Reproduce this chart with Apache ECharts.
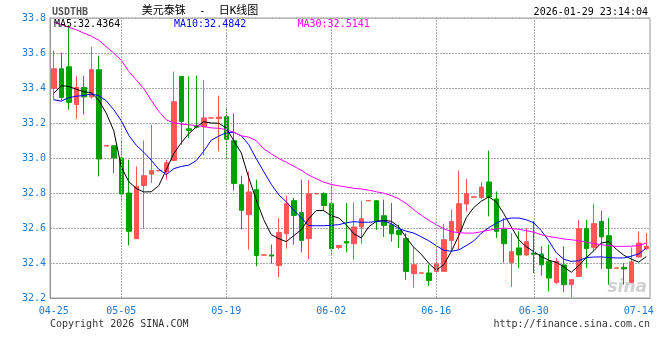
<!DOCTYPE html>
<html>
<head>
<meta charset="utf-8">
<script src="https://cdn.jsdelivr.net/npm/echarts@6/dist/echarts.min.js"></script>
<style>
html,body{margin:0;padding:0;background:#fff;}
#chart{width:660px;height:360px;}
</style>
</head>
<body>
<div id="chart"></div>
<script>
const dates = [
'04-25','04-26','04-27','04-28','04-29','04-30','05-02','05-03','05-04','05-05',
'05-06','05-07','05-08','05-09','05-10','05-11','05-12','05-13','05-14','05-15','05-16','05-17','05-18','05-19',
'05-20','05-21','05-22','05-23','05-24','05-25','05-26','05-27','05-28','05-29','05-30','05-31','06-01','06-02',
'06-03','06-04','06-05','06-06','06-07','06-08','06-09','06-10','06-11','06-12','06-13','06-14','06-15','06-16',
'06-17','06-18','06-19','06-20','06-21','06-23','06-24','06-25','06-26','06-27','06-28','06-29','06-30',
'07-01','07-02','07-03','07-04','07-05','07-06','07-07','07-08','07-09','07-10','07-11','07-12','07-13','07-14','07-15'
];
const tickLabels = ['04-25','05-05','05-19','06-02','06-16','06-30','07-14'];
const gridDates = ['05-05','05-19','06-02','06-16','06-30'];

const opens = [
33.398,33.510,33.521,33.306,33.403,33.349,33.505,33.068,33.070,33.000,
32.800,32.539,32.843,32.908,32.927,32.920,32.986,33.466,33.167,33.183,
33.178,33.228,33.225,33.236,33.099,32.847,32.676,32.819,32.445,32.446,
32.386,32.567,32.756,32.689,32.539,32.795,32.796,32.739,32.489,32.523,
32.510,32.606,32.755,32.756,32.670,32.619,32.586,32.539,32.339,32.342,
32.343,32.352,32.352,32.529,32.581,32.737,32.776,32.775,32.863,32.766,
32.594,32.403,32.486,32.446,32.457,32.451,32.409,32.289,32.389,32.276,
32.323,32.596,32.489,32.638,32.556,32.370,32.375,32.289,32.434,32.482
];
const closes = [
33.510,33.346,33.318,33.403,33.349,33.505,32.994,33.072,33.000,32.794,
32.581,32.838,32.899,32.928,32.929,32.973,33.322,33.209,33.158,33.176,
33.229,33.230,33.234,33.107,32.855,32.701,32.806,32.443,32.447,32.440,
32.575,32.739,32.672,32.529,32.796,32.797,32.729,32.482,32.500,32.514,
32.606,32.653,32.757,32.638,32.615,32.567,32.562,32.352,32.390,32.344,
32.300,32.396,32.533,32.638,32.739,32.796,32.778,32.834,32.777,32.581,
32.510,32.465,32.446,32.522,32.449,32.390,32.314,32.409,32.276,32.305,
32.596,32.482,32.625,32.549,32.369,32.372,32.366,32.407,32.514,32.495
];
const lows = [
33.330,33.330,33.276,33.224,33.249,33.340,32.895,33.066,32.914,32.752,
32.500,32.537,32.594,32.857,32.926,32.876,32.985,33.076,33.114,33.170,
33.016,33.227,33.038,32.994,32.815,32.592,32.476,32.381,32.444,32.396,
32.318,32.482,32.505,32.461,32.423,32.794,32.700,32.447,32.480,32.461,
32.419,32.510,32.754,32.590,32.549,32.523,32.486,32.305,32.260,32.340,
32.270,32.352,32.352,32.476,32.476,32.695,32.775,32.766,32.666,32.543,
32.403,32.263,32.371,32.440,32.343,32.329,32.238,32.280,32.234,32.203,
32.323,32.371,32.466,32.367,32.276,32.369,32.276,32.289,32.434,32.476
];
const highs = [
33.613,33.600,33.760,33.470,33.470,33.636,33.585,33.074,33.072,33.105,
32.990,32.952,33.100,33.190,32.930,32.990,33.494,33.468,33.466,33.471,
33.445,33.231,33.356,33.286,33.253,32.899,32.923,32.876,32.448,32.505,
32.657,32.785,32.771,32.876,32.876,32.798,32.803,32.847,32.502,32.743,
32.746,32.756,32.758,32.757,32.762,32.743,32.619,32.570,32.490,32.346,
32.390,32.495,32.625,32.705,32.929,32.880,32.779,32.861,33.042,32.809,
32.657,32.571,32.581,32.600,32.638,32.495,32.505,32.430,32.495,32.305,
32.647,32.647,32.739,32.699,32.657,32.373,32.400,32.489,32.581,32.571
];
const ma5 = [
33.370,33.413,33.409,33.393,33.379,33.373,33.330,33.256,33.156,32.950,
32.865,32.826,32.806,32.807,32.842,32.933,33.025,33.087,33.139,33.177,
33.207,33.200,33.199,33.171,33.099,33.029,32.887,32.760,32.648,32.562,
32.539,32.522,32.556,32.590,32.653,32.700,32.699,32.670,32.657,32.619,
32.567,32.543,32.607,32.638,32.643,32.639,32.607,32.545,32.490,32.450,
32.398,32.359,32.390,32.465,32.556,32.659,32.717,32.753,32.778,32.750,
32.682,32.607,32.533,32.493,32.465,32.437,32.416,32.404,32.379,32.347,
32.385,32.430,32.470,32.514,32.522,32.479,32.445,32.422,32.405,32.4364
];
const ma10 = [
33.333,33.325,33.345,33.353,33.357,33.366,33.356,33.327,33.276,33.213,
33.130,33.073,33.033,32.987,32.936,32.905,32.939,32.952,32.959,32.985,
33.039,33.102,33.125,33.145,33.147,33.127,33.076,32.996,32.922,32.850,
32.790,32.750,32.702,32.659,32.613,32.613,32.613,32.616,32.619,32.630,
32.636,32.633,32.633,32.636,32.641,32.625,32.596,32.582,32.571,32.550,
32.527,32.499,32.473,32.467,32.475,32.499,32.526,32.570,32.602,32.627,
32.649,32.657,32.657,32.647,32.630,32.585,32.527,32.459,32.422,32.409,
32.413,32.431,32.434,32.435,32.431,32.429,32.429,32.439,32.453,32.4842
];
const ma30 = [
33.776,33.762,33.747,33.733,33.714,33.696,33.673,33.636,33.599,33.559,
33.495,33.446,33.396,33.330,33.267,33.218,33.200,33.194,33.190,33.185,
33.180,33.172,33.170,33.162,33.147,33.127,33.119,33.099,33.053,33.024,
32.997,32.976,32.953,32.930,32.902,32.882,32.862,32.849,32.841,32.834,
32.827,32.823,32.816,32.807,32.799,32.785,32.767,32.739,32.705,32.673,
32.644,32.619,32.596,32.579,32.573,32.571,32.571,32.579,32.587,32.595,
32.599,32.597,32.593,32.585,32.576,32.562,32.551,32.545,32.537,32.533,
32.527,32.519,32.511,32.505,32.499,32.495,32.495,32.496,32.500,32.5141
];

const UP = '#ff5555', DOWN = '#00a000';
const MONO = '"DejaVu Sans Mono", monospace';
const LABEL_BLUE = '#1a7ad4';

const kData = dates.map((d, i) => [opens[i], closes[i], lows[i], highs[i]]);
const last = a => a[a.length - 1].toFixed(4);

const chart = echarts.init(document.getElementById('chart'), null, {renderer: 'canvas'});
chart.setOption({
  animation: false,
  backgroundColor: '#fff',
  grid: {left: 50, top: 18, width: 600, height: 280, show: true, borderColor: '#999', borderWidth: 1, backgroundColor: 'transparent'},
  xAxis: {
    type: 'category',
    data: dates,
    boundaryGap: true,
    axisLine: {show: true, lineStyle: {color: '#999', width: 1}},
    axisTick: {show: false},
    splitLine: {show: false},
    axisLabel: {
      interval: (idx, val) => tickLabels.includes(val),
      color: LABEL_BLUE, fontFamily: MONO, fontSize: 10, margin: 8
    }
  },
  yAxis: {
    type: 'value',
    min: 32.2, max: 33.8, interval: 0.2,
    axisLine: {show: true, lineStyle: {color: '#999', width: 1}},
    axisTick: {show: false},
    splitLine: {show: true, lineStyle: {color: '#aaa', type: [2, 1], width: 1}},
    axisLabel: {formatter: v => v.toFixed(1), color: LABEL_BLUE, fontFamily: MONO, fontSize: 10, margin: 4}
  },
  series: [
    {
      type: 'candlestick',
      data: kData,
      barWidth: 5,
      itemStyle: {color: UP, color0: DOWN, borderColor: UP, borderColor0: DOWN, borderWidth: 1},
      markLine: {
        silent: true,
        symbol: ['none', 'none'],
        label: {show: false},
        lineStyle: {color: '#aaa', type: [2, 1], width: 1},
        data: gridDates.map(d => ({xAxis: d}))
      },
      z: 2
    },
    {type: 'line', data: ma5, showSymbol: false, symbol: 'none', lineStyle: {color: '#000000', width: 1}, z: 3},
    {type: 'line', data: ma10, showSymbol: false, symbol: 'none', lineStyle: {color: '#0000ff', width: 1}, z: 3},
    {type: 'line', data: ma30, showSymbol: false, symbol: 'none', lineStyle: {color: '#ff00ff', width: 1}, z: 3}
  ],
  graphic: [
    {type: 'text', x: 200, y: 11, style: {text: '美元泰铢  -  日K线图', fill: '#000', font: '11px "DejaVu Sans Mono", "Noto Sans CJK SC"', align: 'center', verticalAlign: 'middle'}},
    {type: 'text', x: 52, y: 12.5, style: {text: 'USDTHB', fill: '#555', font: 'bold 10px ' + MONO, align: 'left', verticalAlign: 'middle'}},
    {type: 'text', x: 648, y: 12, style: {text: '2026-01-29 23:14:04', fill: '#000', font: '10px ' + MONO, align: 'right', verticalAlign: 'middle'}},
    {type: 'text', x: 54, y: 24, z: 10, style: {text: 'MA5:' + last(ma5), fill: '#000000', font: '10px ' + MONO, align: 'left', verticalAlign: 'middle'}},
    {type: 'text', x: 174, y: 24, z: 10, style: {text: 'MA10:' + last(ma10), fill: '#0000ff', font: '10px ' + MONO, align: 'left', verticalAlign: 'middle'}},
    {type: 'text', x: 297.5, y: 24, z: 10, style: {text: 'MA30:' + last(ma30), fill: '#ff00ff', font: '10px ' + MONO, align: 'left', verticalAlign: 'middle'}},
    {type: 'text', x: 50, y: 324, style: {text: 'Copyright 2026 SINA.COM', fill: '#333', font: '10px ' + MONO, align: 'left', verticalAlign: 'middle'}},
    {type: 'text', x: 650, y: 324, style: {text: 'http://finance.sina.com.cn', fill: '#333', font: '10px ' + MONO, align: 'right', verticalAlign: 'middle'}},
    {type: 'text', x: 647, y: 288, z: 0, style: {text: 'sina', fill: 'rgba(170,170,170,0.55)', font: 'italic bold 17px "DejaVu Sans"', align: 'right', verticalAlign: 'middle'}}
  ]
});
</script>
</body>
</html>
